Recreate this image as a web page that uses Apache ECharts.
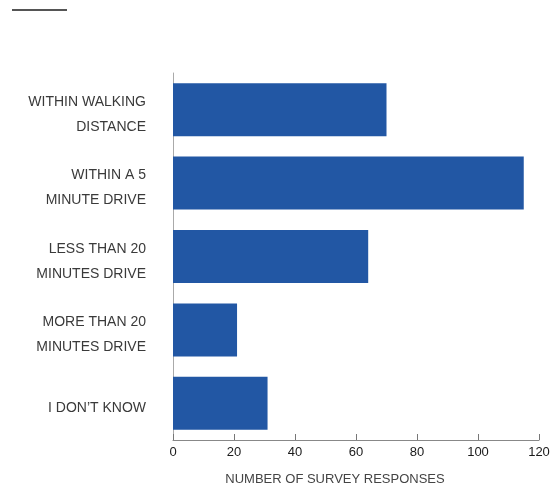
<!DOCTYPE html>
<html><head><meta charset="utf-8">
<script src="https://cdn.jsdelivr.net/npm/echarts@6/dist/echarts.min.js"></script>
<style>html,body{margin:0;padding:0;background:#fff}#c{width:555px;height:492px}</style>
</head><body><div id="c"></div>
<script>
const categories = [
  'WITHIN WALKING\nDISTANCE',
  'WITHIN A 5\nMINUTE DRIVE',
  'LESS THAN 20\nMINUTES DRIVE',
  'MORE THAN 20\nMINUTES DRIVE',
  'I DON\u2019T KNOW'
];
const responses = [70, 115, 64, 21, 31];
const xTicks = [0, 20, 40, 60, 80, 100, 120];
const axisTitle = 'NUMBER OF SURVEY RESPONSES';

const chart = echarts.init(document.getElementById('c'), null, {renderer: 'canvas'});
chart.setOption({
  animation: false,
  backgroundColor: '#fff',
  grid: {left: 173, right: 16, top: 73, bottom: 52, containLabel: false},
  graphic: [{
    type: 'line', shape: {x1: 12, y1: 10, x2: 67, y2: 10},
    style: {stroke: '#555', lineWidth: 2}
  }],
  xAxis: {
    type: 'value', min: xTicks[0], max: xTicks[xTicks.length - 1], interval: 20,
    name: axisTitle, nameLocation: 'middle', nameGap: 33,
    nameTextStyle: {fontFamily: 'Liberation Sans', fontSize: 13, color: '#444', padding: [0, 42, 0, 0]},
    axisLine: {show: true, lineStyle: {color: '#888', width: 1}},
    axisTick: {show: true, inside: true, length: 6, lineStyle: {color: '#777'}},
    axisLabel: {fontFamily: 'Liberation Sans', fontSize: 13, color: '#1a1a1a', margin: 6},
    splitLine: {show: false}
  },
  yAxis: {
    type: 'category', data: categories, inverse: true,
    axisLine: {show: true, lineStyle: {color: '#aaa', width: 1}},
    axisTick: {show: false},
    axisLabel: {
      fontFamily: 'Liberation Sans', fontSize: 14, color: '#3a3a3a', margin: 27, lineHeight: 25, align: 'right',
      formatter: v => '{s|\u200b}\n' + v,
      rich: {s: {fontSize: 1, lineHeight: 10}}
    }
  },
  series: [{
    type: 'bar', data: responses, barWidth: 53,
    itemStyle: {color: '#2257A4'}
  }]
});
</script></body></html>
